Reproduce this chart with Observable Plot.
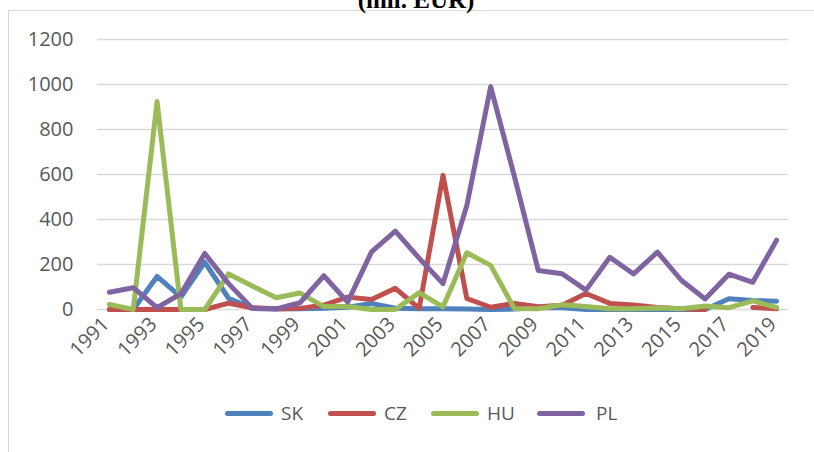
<!DOCTYPE html>
<html>
<head>
<meta charset="utf-8">
<script src="https://cdn.jsdelivr.net/npm/d3@7"></script>
<script src="https://cdn.jsdelivr.net/npm/@observablehq/plot@0.6"></script>
<style>
  html, body { margin: 0; padding: 0; background: #fff; }
  #wrap { position: relative; width: 814px; height: 452px; overflow: hidden; background: #fff; }
  #border { position: absolute; left: 8px; top: 10px; width: 900px; height: 600px; border: 1.5px solid #d9d9d9; box-sizing: border-box; }
  #title { position: absolute; left: 0; width: 832px; top: -14px; text-align: center; font-family: "Liberation Serif", "DejaVu Serif", serif; font-weight: bold; font-size: 25px; color: #000; }
  #chart { position: absolute; left: 0; top: 0; }
  .leg { position: absolute; font-family: "Open Sans", sans-serif; font-size: 19px; color: #595959; line-height: 1; }
  .sw { position: absolute; height: 5px; border-radius: 3px; }
</style>
</head>
<body>
<div id="wrap">
  <div id="border"></div>
  <div id="title">(mil. EUR)</div>
  <div id="chart"></div>
  <div id="legend"></div>
</div>
<script>
const years = d3.range(1991, 2020);
const series = ["SK", "CZ", "HU", "PL"];
const colors = ["#4F81BD", "#C0504D", "#9BBB59", "#8064A2"];
const SK = [0, 0, 147, 55, 210, 50, 5, 2, 3, 5, 10, 27, 6, 3, 3, 2, 0, 2, 8, 8, 0, 0, 0, 0, 0, 0, 48, 40, 37];
const CZ = [0, 0, 0, 0, 0, 28, 8, 3, 5, 20, 55, 44, 94, 5, 596, 49, 10, 27, 12, 19, 71, 27, 20, 9, 3, 0, null, 9, 3];
const HU = [22, 0, 924, 0, 0, 158, 104, 52, 73, 13, 13, 0, 0, 75, 12, 252, 196, 4, 3, 21, 13, 3, 3, 7, 3, 16, 8, 38, 9];
const PL = [77, 97, 8, 70, 249, 115, 5, 3, 30, 150, 33, 256, 348, 228, 115, 462, 990, 590, 173, 159, 86, 232, 158, 255, 130, 47, 157, 121, 308];
const yTicks = [0, 200, 400, 600, 800, 1000, 1200];
const xTicks = [1991, 1993, 1995, 1997, 1999, 2001, 2003, 2005, 2007, 2009, 2011, 2013, 2015, 2017, 2019];

const valuesBySeries = {SK, CZ, HU, PL};
const rows = [];
series.forEach(s => {
  valuesBySeries[s].forEach((v, i) => rows.push({series: s, year: years[i], value: v == null ? NaN : v}));
});

const plot = Plot.plot({
  width: 814,
  height: 380,
  marginLeft: 97,
  marginRight: 26,
  marginTop: 39,
  marginBottom: 71,
  style: {background: "transparent", fontFamily: "Open Sans, sans-serif"},
  x: {type: "linear", domain: [1990.5, 2019.5], axis: null},
  y: {domain: [0, 1200], axis: null},
  color: {domain: series, range: colors},
  marks: [
    Plot.ruleY(yTicks, {stroke: "#d9d9d9", strokeWidth: 1.5}),
    Plot.text(yTicks, {y: d => d, text: d => String(d), frameAnchor: "left", textAnchor: "end", dx: -24, fontSize: 20, fill: "#595959"}),
    Plot.text(xTicks, {x: d => d, text: d => String(d), frameAnchor: "bottom", textAnchor: "end", rotate: -45, dy: 16, dx: 1, fontSize: 20, fill: "#595959"}),
    Plot.line(rows, {x: "year", y: "value", z: "series", stroke: "series", strokeWidth: 5, strokeLinejoin: "round", strokeLinecap: "round"})
  ]
});
document.getElementById("chart").appendChild(plot);

// legend
const legend = document.getElementById("legend");
const legPos = [[225, 281], [328, 384], [431, 487], [537, 596]];
series.forEach((s, i) => {
  const sw = document.createElement("div");
  sw.className = "sw";
  sw.style.left = legPos[i][0] + "px";
  sw.style.top = "411px";
  sw.style.width = "48px";
  sw.style.background = colors[i];
  legend.appendChild(sw);
  const t = document.createElement("div");
  t.className = "leg";
  t.style.left = legPos[i][1] + "px";
  t.style.top = "404px";
  t.textContent = s;
  legend.appendChild(t);
});
</script>
</body>
</html>
